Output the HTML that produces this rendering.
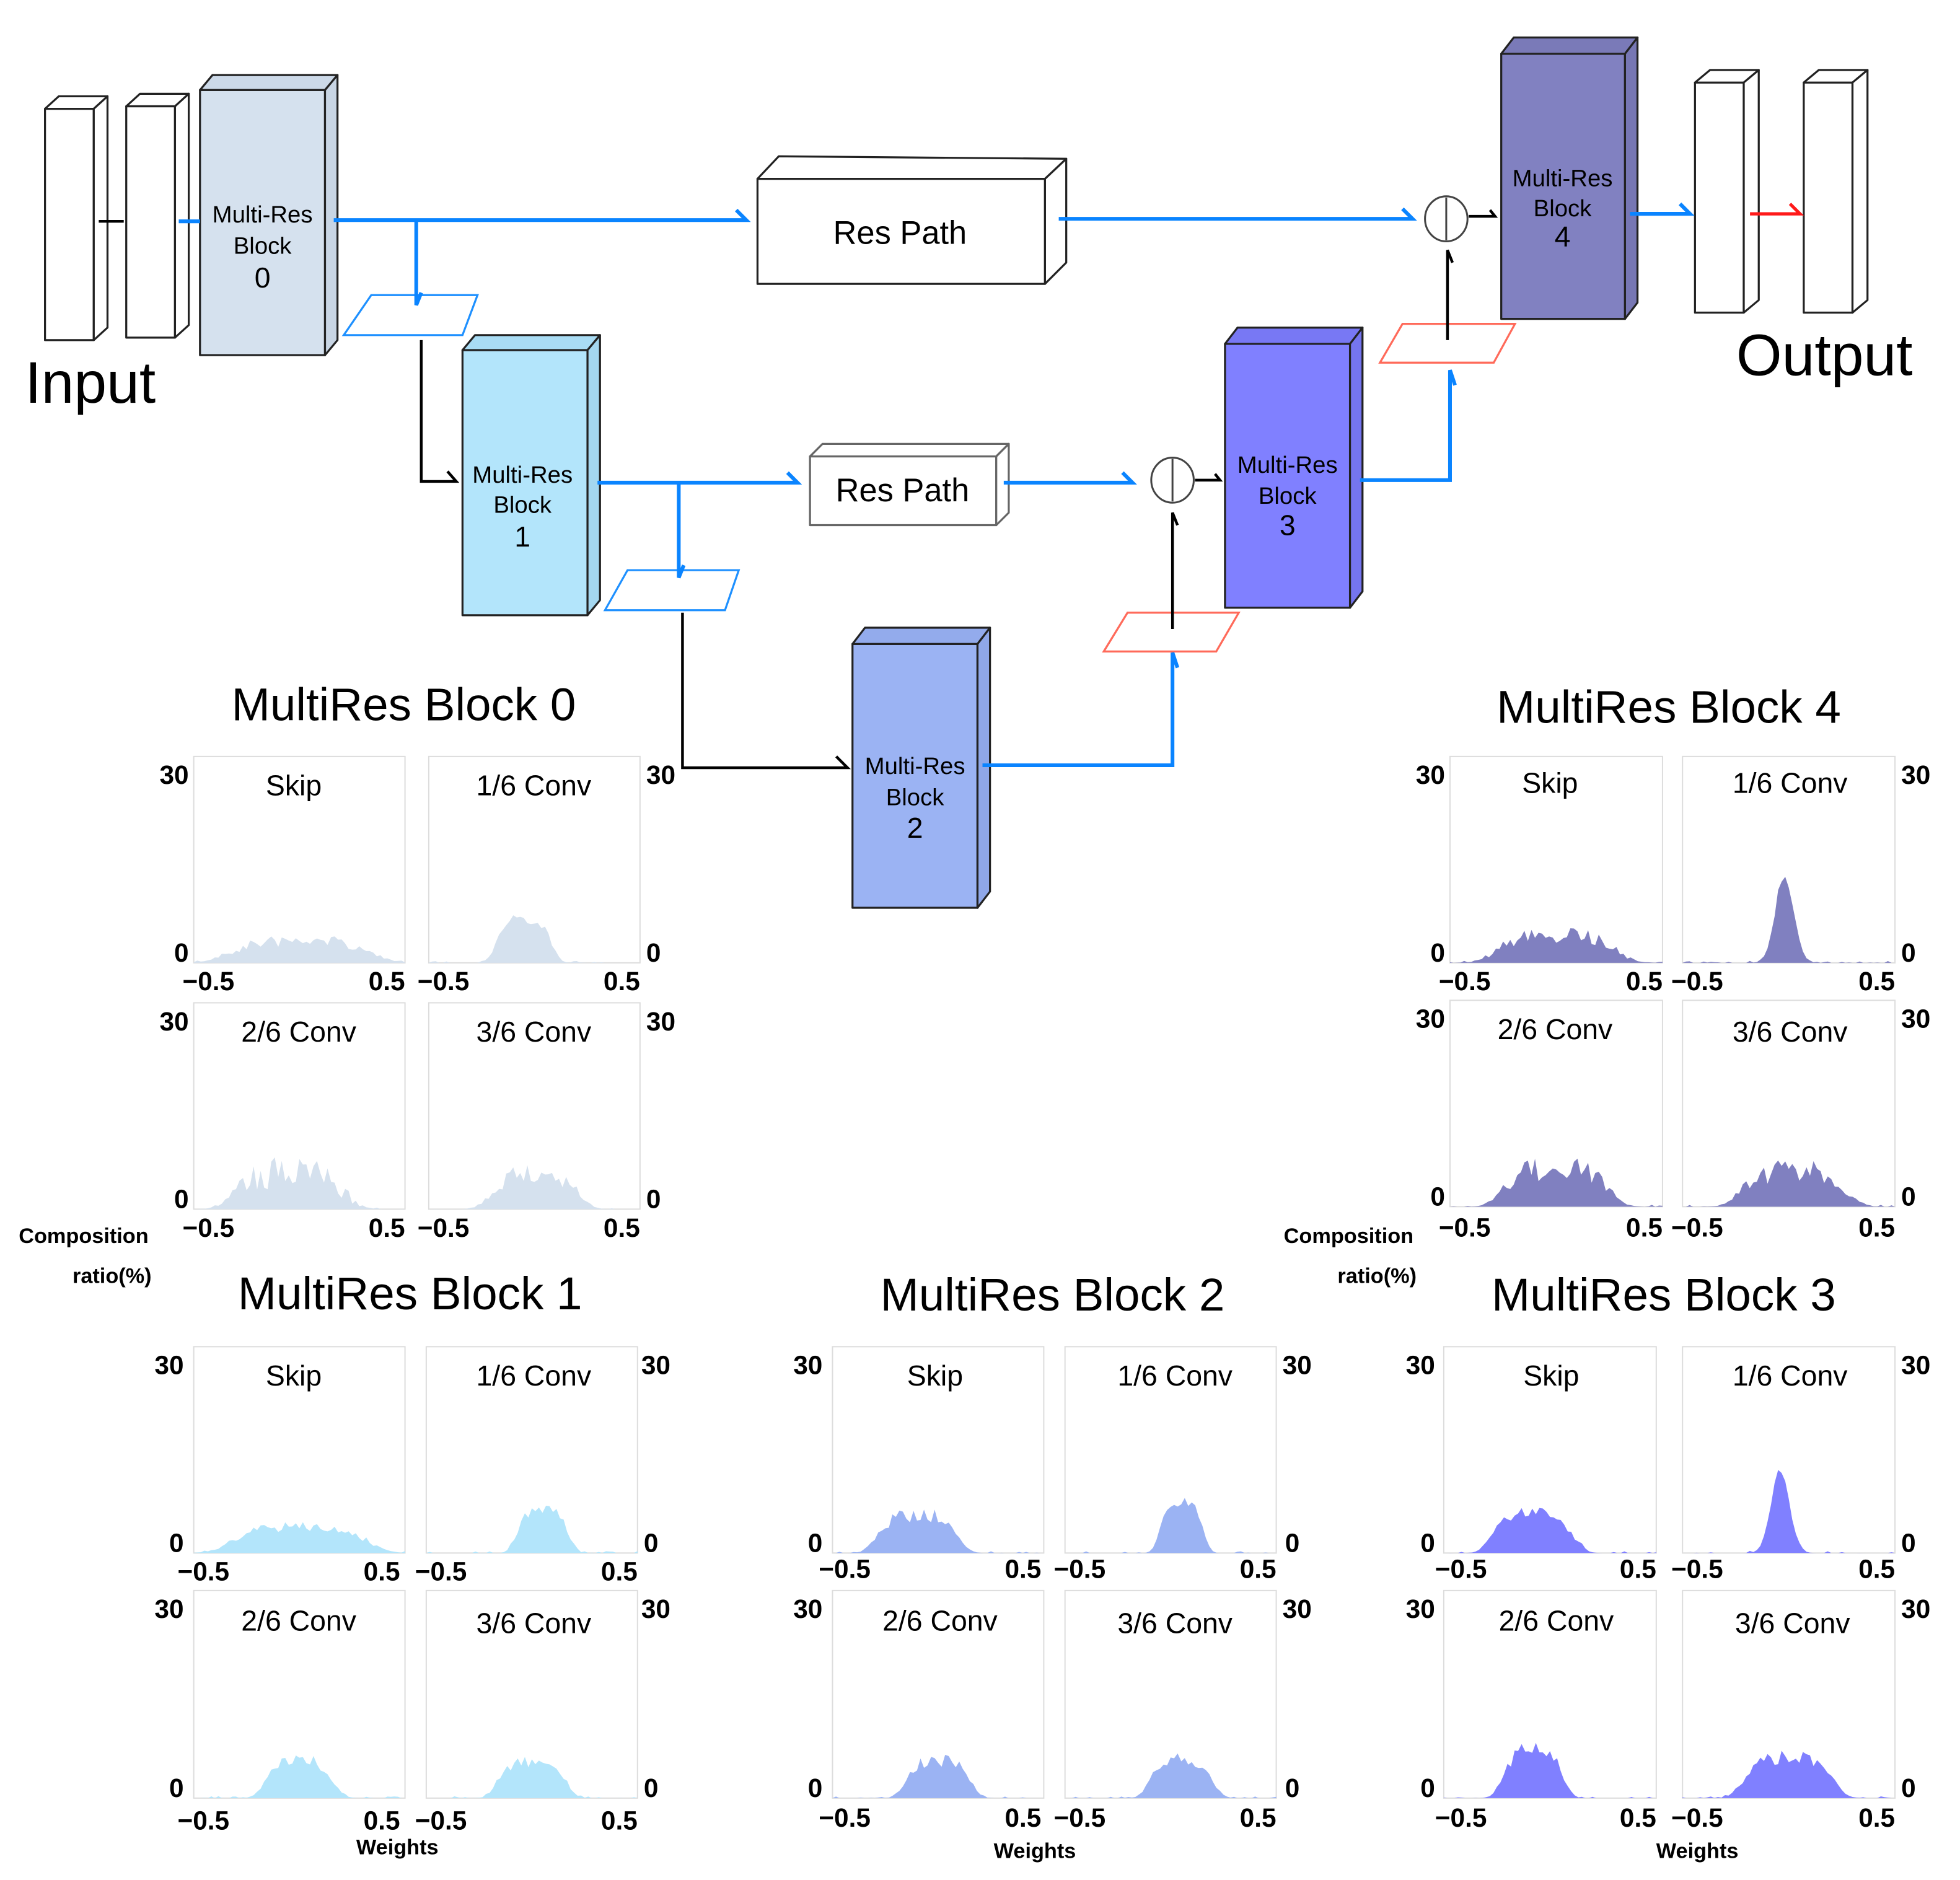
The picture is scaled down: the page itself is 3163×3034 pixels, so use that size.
<!DOCTYPE html>
<html><head><meta charset="utf-8">
<style>
html,body{margin:0;padding:0;background:#fff;width:3163px;height:3034px;overflow:hidden;}
svg{display:block;}
text{font-family:"Liberation Sans",sans-serif;fill:#000;}
.pt{font-size:23px;}
.ax{font-size:21px;font-weight:bold;}
.bl{font-size:19px;}
.bn{font-size:23px;}
.tt{font-size:37px;}
</style></head><body>
<svg id="s" width="3163" height="3034" viewBox="0 0 1568 1503.5" preserveAspectRatio="none" xmlns="http://www.w3.org/2000/svg">
<rect x="0" y="0" width="1568" height="1503.5" fill="#fff"/>
<g stroke="#222" stroke-width="1.6" stroke-linejoin="round">
<rect x="36" y="87" width="39" height="185" fill="#fff"/><polygon points="36,87 47,77 86,77 75,87" fill="#fff"/><polygon points="75,87 86,77 86,262 75,272" fill="#fff"/>
<rect x="101" y="85" width="39" height="185" fill="#fff"/><polygon points="101,85 112,75 151,75 140,85" fill="#fff"/><polygon points="140,85 151,75 151,260 140,270" fill="#fff"/>
<rect x="160" y="72" width="100" height="212" fill="#d5e1ee"/><polygon points="160,72 170,60 270,60 260,72" fill="#ccd9e8"/><polygon points="260,72 270,60 270,272 260,284" fill="#c8d5e4"/>
<rect x="370" y="280" width="100" height="212" fill="#b3e5fb"/><polygon points="370,280 380,268 480,268 470,280" fill="#a9dcf4"/><polygon points="470,280 480,268 480,480 470,492" fill="#a4d7f0"/>
<rect x="682" y="515" width="100" height="211" fill="#9bb3f3"/><polygon points="682,515 692,502 792,502 782,515" fill="#93abec"/><polygon points="782,515 792,502 792,713 782,726" fill="#8fa7e8"/>
<rect x="980" y="275" width="100" height="211" fill="#8080ff"/><polygon points="980,275 990,262 1090,262 1080,275" fill="#7878f4"/><polygon points="1080,275 1090,262 1090,473 1080,486" fill="#7575ef"/>
<rect x="1201" y="43" width="99" height="212" fill="#8181c1"/><polygon points="1201,43 1211,30 1310,30 1300,43" fill="#7a7ab8"/><polygon points="1300,43 1310,30 1310,242 1300,255" fill="#7777b4"/>
<rect x="606" y="143" width="230" height="84" fill="#fff"/><polygon points="606,143 623,125 853,127 836,143" fill="#fff"/><polygon points="836,143 853,127 853,210 836,227" fill="#fff"/>
<rect x="648" y="365" width="149" height="55" fill="#fff" stroke="#666"/><polygon points="648,365 658,355 807,355 797,365" fill="#fff" stroke="#666"/><polygon points="797,365 807,355 807,410 797,420" fill="#fff" stroke="#666"/>
<rect x="1356" y="66" width="39" height="184" fill="#fff"/><polygon points="1356,66 1368,56 1407,56 1395,66" fill="#fff"/><polygon points="1395,66 1407,56 1407,240 1395,250" fill="#fff"/>
<rect x="1443" y="66" width="39" height="184" fill="#fff"/><polygon points="1443,66 1455,56 1494,56 1482,66" fill="#fff"/><polygon points="1482,66 1494,56 1494,240 1482,250" fill="#fff"/>
</g>
<polygon points="275,268 297,236 382,236 370,268" fill="none" stroke="#1e90ff" stroke-width="1.6"/>
<polygon points="484,488 502,456 591,456 580,488" fill="none" stroke="#1e90ff" stroke-width="1.6"/>
<polygon points="883,521 902,490 991,490 973,521" fill="none" stroke="#ff6a5a" stroke-width="1.6"/>
<polygon points="1104,290 1122,259 1212,259 1195,290" fill="none" stroke="#ff6a5a" stroke-width="1.6"/>
<g fill="none" stroke="#444" stroke-width="1.5">
<ellipse cx="938" cy="384" rx="17" ry="18"/><line x1="938" y1="367" x2="938" y2="401"/>
<ellipse cx="1157" cy="175" rx="17" ry="18"/><line x1="1157" y1="158" x2="1157" y2="192"/>
</g>
<g fill="none" stroke="#0a84ff" stroke-width="3" stroke-linejoin="miter">
<path d="M143,177 H160"/>
<path d="M267,176 H597 l-8,-8"/>
<path d="M333,176 V244 l4,-10"/>
<path d="M478,386 H638 l-8,-8"/>
<path d="M543,386 V462 l4,-10"/>
<path d="M803,386 H906 l-8,-8"/>
<path d="M786,612 H938 V522 l4,12"/>
<path d="M1088,384 H1160 V296 l4,12"/>
<path d="M847,175 H1130 l-8,-8"/>
<path d="M1304,171 H1352 l-8,-8"/>
</g>
<g fill="none" stroke="#000" stroke-width="2.2">
<path d="M79,177 H99"/>
<path d="M337,272 V385 H365 l-7,-8"/>
<path d="M546,490 V614 H678 l-9,-9"/>
<path d="M938,503 V410 l4,10"/>
<path d="M1158,272 V200 l4,10"/>
<path d="M956,384 H976 l-4,-5"/>
<path d="M1175,173 H1196 l-4,-5"/>
</g>
<path d="M1400,171 H1440 l-8,-8" fill="none" stroke="#ff1a1a" stroke-width="2.6"/>
<g text-anchor="middle">
<text class="bl" x="210" y="178">Multi-Res</text><text class="bl" x="210" y="203">Block</text><text class="bn" x="210" y="230">0</text>
<text class="bl" x="418" y="386">Multi-Res</text><text class="bl" x="418" y="410">Block</text><text class="bn" x="418" y="437">1</text>
<text class="bl" x="732" y="619">Multi-Res</text><text class="bl" x="732" y="644">Block</text><text class="bn" x="732" y="670">2</text>
<text class="bl" x="1030" y="378">Multi-Res</text><text class="bl" x="1030" y="403">Block</text><text class="bn" x="1030" y="428">3</text>
<text class="bl" x="1250" y="149">Multi-Res</text><text class="bl" x="1250" y="173">Block</text><text class="bn" x="1250" y="197">4</text>
<text x="720" y="195" style="font-size:26px">Res Path</text>
<text x="722" y="401" style="font-size:26px">Res Path</text>
</g>
<text x="20" y="322" style="font-size:47px">Input</text>
<text x="1389" y="300" style="font-size:47px">Output</text>
<g text-anchor="middle">
<text class="tt" x="323" y="576">MultiRes Block 0</text>
<text class="tt" x="1335" y="578">MultiRes Block 4</text>
<text class="tt" x="328" y="1047">MultiRes Block 1</text>
<text class="tt" x="842" y="1048">MultiRes Block 2</text>
<text class="tt" x="1331" y="1048">MultiRes Block 3</text>
</g>
<g style="font-size:17px;font-weight:bold">
<text x="15" y="994">Composition</text><text x="58" y="1026">ratio(%)</text>
<text x="1027" y="994">Composition</text><text x="1070" y="1026">ratio(%)</text>
<text x="285" y="1483">Weights</text><text x="795" y="1486">Weights</text><text x="1325" y="1486">Weights</text>
</g>
<g id="panels">
<g class="pl" id="p0_0" transform="translate(155,605)"><rect width="169" height="165" fill="none" stroke="#ddd"/><text class="pt" x="80" y="31" text-anchor="middle">Skip</text><text class="ax" x="-4" y="22" text-anchor="end">30</text><text class="ax" x="-4" y="164" text-anchor="end">0</text><text class="ax" x="-9" y="187">−0.5</text><text class="ax" x="169" y="187" text-anchor="end">0.5</text></g>
<g class="pl" id="p0_1" transform="translate(343,605)"><rect width="169" height="165" fill="none" stroke="#ddd"/><text class="pt" x="84" y="31" text-anchor="middle">1/6 Conv</text><text class="ax" x="174" y="22">30</text><text class="ax" x="174" y="164">0</text><text class="ax" x="-9" y="187">−0.5</text><text class="ax" x="169" y="187" text-anchor="end">0.5</text></g>
<g class="pl" id="p0_2" transform="translate(155,802)"><rect width="169" height="165" fill="none" stroke="#ddd"/><text class="pt" x="84" y="31" text-anchor="middle">2/6 Conv</text><text class="ax" x="-4" y="22" text-anchor="end">30</text><text class="ax" x="-4" y="164" text-anchor="end">0</text><text class="ax" x="-9" y="187">−0.5</text><text class="ax" x="169" y="187" text-anchor="end">0.5</text></g>
<g class="pl" id="p0_3" transform="translate(343,802)"><rect width="169" height="165" fill="none" stroke="#ddd"/><text class="pt" x="84" y="31" text-anchor="middle">3/6 Conv</text><text class="ax" x="174" y="22">30</text><text class="ax" x="174" y="164">0</text><text class="ax" x="-9" y="187">−0.5</text><text class="ax" x="169" y="187" text-anchor="end">0.5</text></g>
<g class="pl" id="p4_0" transform="translate(1160,605)"><rect width="170" height="165" fill="none" stroke="#ddd"/><text class="pt" x="80" y="29" text-anchor="middle">Skip</text><text class="ax" x="-4" y="22" text-anchor="end">30</text><text class="ax" x="-4" y="164" text-anchor="end">0</text><text class="ax" x="-9" y="187">−0.5</text><text class="ax" x="170" y="187" text-anchor="end">0.5</text></g>
<g class="pl" id="p4_1" transform="translate(1346,605)"><rect width="170" height="165" fill="none" stroke="#ddd"/><text class="pt" x="86" y="29" text-anchor="middle">1/6 Conv</text><text class="ax" x="175" y="22">30</text><text class="ax" x="175" y="164">0</text><text class="ax" x="-9" y="187">−0.5</text><text class="ax" x="170" y="187" text-anchor="end">0.5</text></g>
<g class="pl" id="p4_2" transform="translate(1160,800)"><rect width="170" height="165" fill="none" stroke="#ddd"/><text class="pt" x="84" y="31" text-anchor="middle">2/6 Conv</text><text class="ax" x="-4" y="22" text-anchor="end">30</text><text class="ax" x="-4" y="164" text-anchor="end">0</text><text class="ax" x="-9" y="189">−0.5</text><text class="ax" x="170" y="189" text-anchor="end">0.5</text></g>
<g class="pl" id="p4_3" transform="translate(1346,800)"><rect width="170" height="165" fill="none" stroke="#ddd"/><text class="pt" x="86" y="33" text-anchor="middle">3/6 Conv</text><text class="ax" x="175" y="22">30</text><text class="ax" x="175" y="164">0</text><text class="ax" x="-9" y="189">−0.5</text><text class="ax" x="170" y="189" text-anchor="end">0.5</text></g>
<g class="pl" id="p1_0" transform="translate(155,1077)"><rect width="169" height="165" fill="none" stroke="#ddd"/><text class="pt" x="80" y="31" text-anchor="middle">Skip</text><text class="ax" x="-8" y="22" text-anchor="end">30</text><text class="ax" x="-8" y="164" text-anchor="end">0</text><text class="ax" x="-13" y="187">−0.5</text><text class="ax" x="165" y="187" text-anchor="end">0.5</text></g>
<g class="pl" id="p1_1" transform="translate(341,1077)"><rect width="169" height="165" fill="none" stroke="#ddd"/><text class="pt" x="86" y="31" text-anchor="middle">1/6 Conv</text><text class="ax" x="172" y="22">30</text><text class="ax" x="174" y="164">0</text><text class="ax" x="-9" y="187">−0.5</text><text class="ax" x="169" y="187" text-anchor="end">0.5</text></g>
<g class="pl" id="p1_2" transform="translate(155,1272)"><rect width="169" height="166" fill="none" stroke="#ddd"/><text class="pt" x="84" y="32" text-anchor="middle">2/6 Conv</text><text class="ax" x="-8" y="22" text-anchor="end">30</text><text class="ax" x="-8" y="165" text-anchor="end">0</text><text class="ax" x="-13" y="191">−0.5</text><text class="ax" x="165" y="191" text-anchor="end">0.5</text></g>
<g class="pl" id="p1_3" transform="translate(341,1272)"><rect width="169" height="166" fill="none" stroke="#ddd"/><text class="pt" x="86" y="34" text-anchor="middle">3/6 Conv</text><text class="ax" x="172" y="22">30</text><text class="ax" x="174" y="165">0</text><text class="ax" x="-9" y="191">−0.5</text><text class="ax" x="169" y="191" text-anchor="end">0.5</text></g>
<g class="pl" id="p2_0" transform="translate(666,1077)"><rect width="169" height="165" fill="none" stroke="#ddd"/><text class="pt" x="82" y="31" text-anchor="middle">Skip</text><text class="ax" x="-8" y="22" text-anchor="end">30</text><text class="ax" x="-8" y="164" text-anchor="end">0</text><text class="ax" x="-11" y="185">−0.5</text><text class="ax" x="167" y="185" text-anchor="end">0.5</text></g>
<g class="pl" id="p2_1" transform="translate(852,1077)"><rect width="169" height="165" fill="none" stroke="#ddd"/><text class="pt" x="88" y="31" text-anchor="middle">1/6 Conv</text><text class="ax" x="174" y="22">30</text><text class="ax" x="176" y="164">0</text><text class="ax" x="-9" y="185">−0.5</text><text class="ax" x="169" y="185" text-anchor="end">0.5</text></g>
<g class="pl" id="p2_2" transform="translate(666,1272)"><rect width="169" height="166" fill="none" stroke="#ddd"/><text class="pt" x="86" y="32" text-anchor="middle">2/6 Conv</text><text class="ax" x="-8" y="22" text-anchor="end">30</text><text class="ax" x="-8" y="165" text-anchor="end">0</text><text class="ax" x="-11" y="189">−0.5</text><text class="ax" x="167" y="189" text-anchor="end">0.5</text></g>
<g class="pl" id="p2_3" transform="translate(852,1272)"><rect width="169" height="166" fill="none" stroke="#ddd"/><text class="pt" x="88" y="34" text-anchor="middle">3/6 Conv</text><text class="ax" x="174" y="22">30</text><text class="ax" x="176" y="165">0</text><text class="ax" x="-9" y="189">−0.5</text><text class="ax" x="169" y="189" text-anchor="end">0.5</text></g>
<g class="pl" id="p3_0" transform="translate(1155,1077)"><rect width="170" height="165" fill="none" stroke="#ddd"/><text class="pt" x="86" y="31" text-anchor="middle">Skip</text><text class="ax" x="-7" y="22" text-anchor="end">30</text><text class="ax" x="-7" y="164" text-anchor="end">0</text><text class="ax" x="-7" y="185">−0.5</text><text class="ax" x="170" y="185" text-anchor="end">0.5</text></g>
<g class="pl" id="p3_1" transform="translate(1346,1077)"><rect width="170" height="165" fill="none" stroke="#ddd"/><text class="pt" x="86" y="31" text-anchor="middle">1/6 Conv</text><text class="ax" x="175" y="22">30</text><text class="ax" x="175" y="164">0</text><text class="ax" x="-9" y="185">−0.5</text><text class="ax" x="170" y="185" text-anchor="end">0.5</text></g>
<g class="pl" id="p3_2" transform="translate(1155,1272)"><rect width="170" height="166" fill="none" stroke="#ddd"/><text class="pt" x="90" y="32" text-anchor="middle">2/6 Conv</text><text class="ax" x="-7" y="22" text-anchor="end">30</text><text class="ax" x="-7" y="165" text-anchor="end">0</text><text class="ax" x="-7" y="189">−0.5</text><text class="ax" x="170" y="189" text-anchor="end">0.5</text></g>
<g class="pl" id="p3_3" transform="translate(1346,1272)"><rect width="170" height="166" fill="none" stroke="#ddd"/><text class="pt" x="88" y="34" text-anchor="middle">3/6 Conv</text><text class="ax" x="175" y="22">30</text><text class="ax" x="175" y="165">0</text><text class="ax" x="-9" y="189">−0.5</text><text class="ax" x="170" y="189" text-anchor="end">0.5</text></g>
</g>
</svg>
<script>
(function(){
var cols=["#d5e1ee","#b3e5fb","#9bb3f3","#8080ff","#8080c0"];
var prof={
0:[[.5,.36,22,.45],[.45,.14,38,.2],[.45,.28,42,.65],[.5,.22,38,.5]],
1:[[.5,.34,25,.35],[.55,.13,38,.2],[.5,.17,35,.3],[.5,.17,35,.3]],
2:[[.4,.2,35,.3],[.55,.11,45,.2],[.5,.16,35,.3],[.55,.16,35,.3]],
3:[[.42,.2,38,.3],[.46,.06,70,.08],[.42,.15,45,.3],[.5,.22,38,.3]],
4:[[.5,.3,28,.45],[.48,.06,75,.12],[.5,.26,40,.5],[.52,.26,38,.5]]};
var seed=7;function r(){seed=(seed*16807)%2147483647;return seed/2147483647;}
var gs=document.querySelectorAll("g.pl");
for(var i=0;i<gs.length;i++){
 var g=gs[i],id=g.id.slice(1).split("_"),b=+id[0],p=+id[1];
 var rc=g.querySelector("rect"),W=+rc.getAttribute("width"),H=+rc.getAttribute("height");
 var pr=prof[b][p],N=60,d="M0,"+H;
 for(var k=0;k<=N;k++){var x=k/N,z=(x-pr[0])/pr[1];
  var a=pr[2]*Math.exp(-Math.pow(Math.abs(z),b==3&&p==1||b==4&&p==1?2:4));
  a=a*(1-pr[3]*r())+ (r()<0.3?1.5*r():0);
  d+=" L"+(x*W).toFixed(1)+","+(H-a).toFixed(1);}
 d+=" L"+W+","+H+" Z";
 var pa=document.createElementNS("http://www.w3.org/2000/svg","path");
 pa.setAttribute("d",d);pa.setAttribute("fill",cols[b]);
 g.insertBefore(pa,rc.nextSibling);
}})();
</script>
</body></html>
